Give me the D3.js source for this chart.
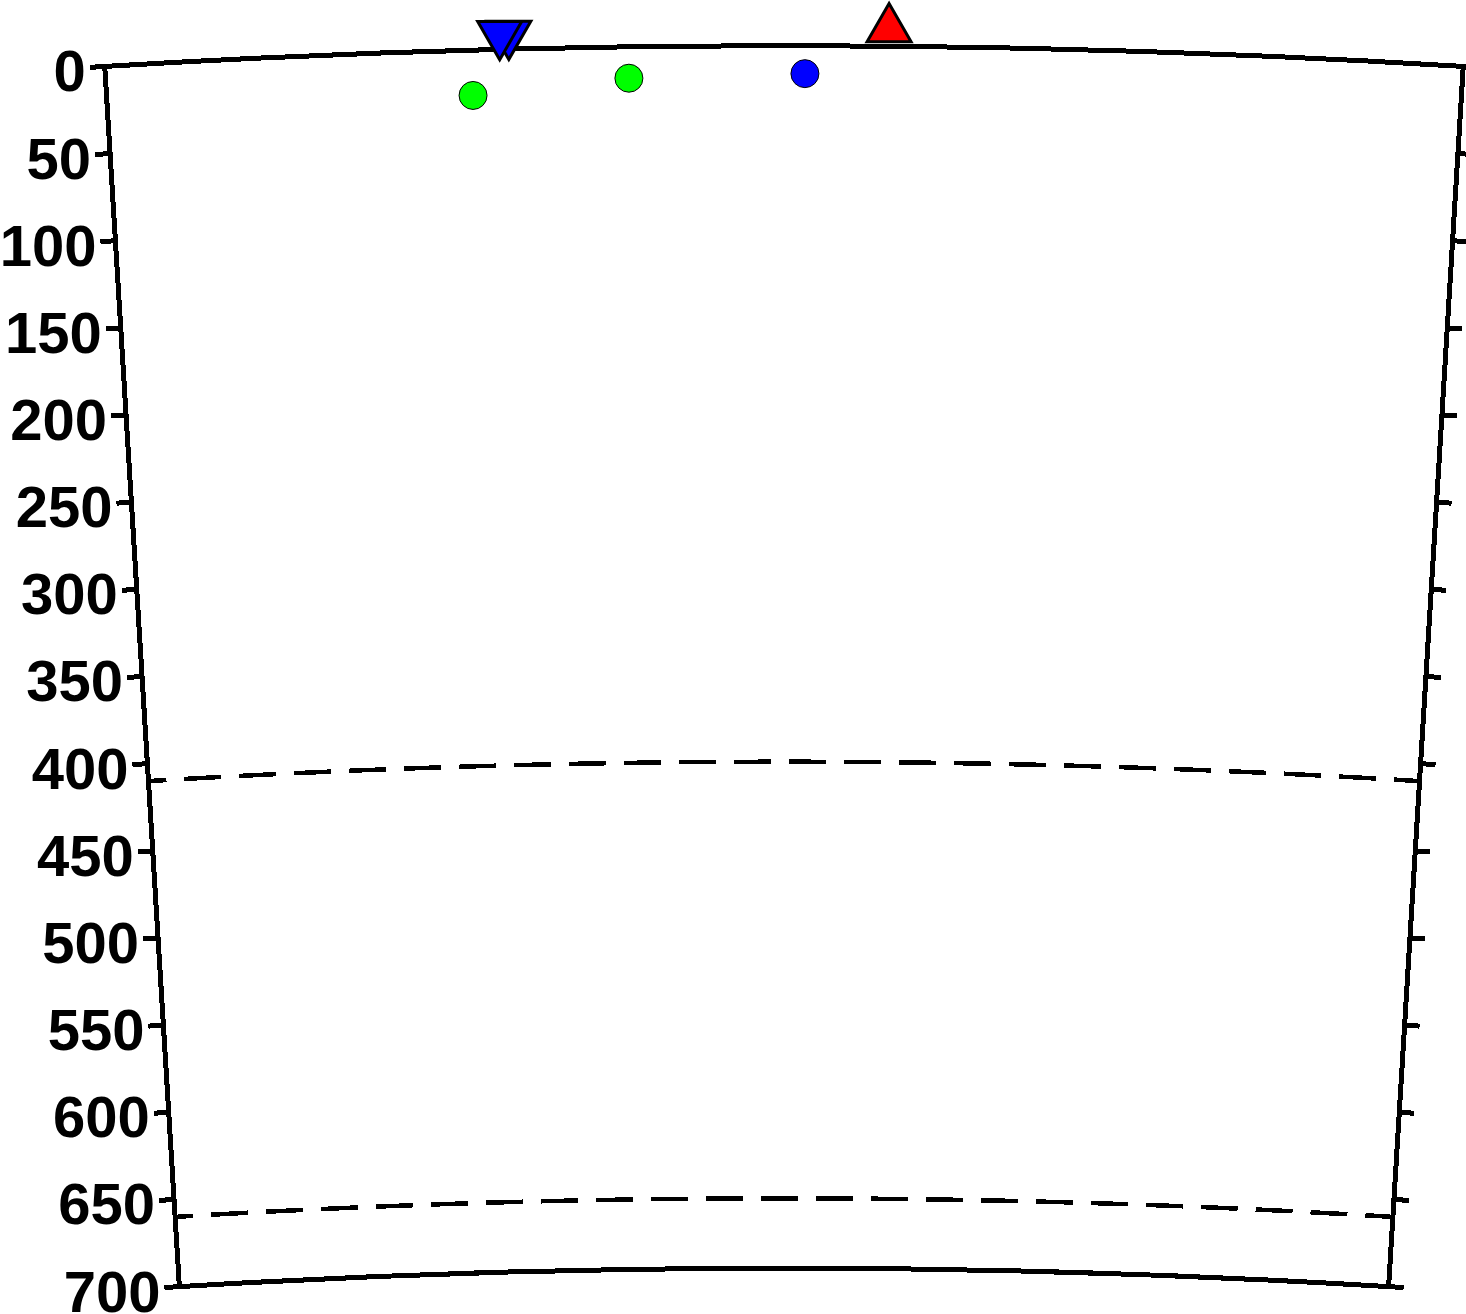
<!DOCTYPE html>
<html>
<head>
<meta charset="utf-8">
<script src="https://cdn.jsdelivr.net/npm/d3@7"></script>
<style>
  html, body { margin: 0; padding: 0; background: #fff; }
  svg { display: block; }
</style>
</head>
<body>
<script>
// ---- data ----
const depthTicks = [0, 50, 100, 150, 200, 250, 300, 350, 400, 450, 500, 550, 600, 650, 700];
const discontinuities = [410, 660];          // km
const profileDeg = [0, 7.0];                 // angular extent of section (deg)
const depthRange = [0, 700];                 // km
const earthRadius = 6371;                    // km

// earthquakes: angle along profile (deg), depth (km), colour
const quakeAngle = [1.892, 2.699, 3.608];
const quakeDepth = [26, 18, 16];
const quakeColor = ["#00ff00", "#00ff00", "#0000ff"];

// stations (drawn above surface): angle (deg), plotting depth (km, negative = above), type, colour
const stationAngle = [2.084, 2.037, 4.04];
const stationDepth = [-5, -5, -13.5];
const stationType  = ["down", "down", "up"];
const stationColor = ["#0000ff", "#0000ff", "#ff0000"];

// ---- layout ----
const W = 1466, H = 1314;
const kmPx = 1.7464;
const cx = 784, cy = 11172;
const R0 = earthRadius * kmPx;

const svg = d3.select("body").append("svg").attr("width", W).attr("height", H);

const rScale = d3.scaleLinear().domain(depthRange).range([R0, R0 - depthRange[1] * kmPx]);
const halfRad = (profileDeg[1] - profileDeg[0]) / 2 * Math.PI / 180;
const aScale = d3.scaleLinear().domain(profileDeg).range([-halfRad, halfRad]);

function pt(a, d) {
  const r = rScale(d), t = aScale(a);
  return [cx + r * Math.sin(t), cy - r * Math.cos(t)];
}

const a0 = aScale(profileDeg[0]) - Math.PI / 2, a1 = aScale(profileDeg[1]) - Math.PI / 2;

// discontinuities (dashed arcs)
discontinuities.forEach(d => {
  const p = d3.path();
  const s = pt(profileDeg[0], d);
  p.moveTo(s[0], s[1]);
  p.arc(cx, cy, rScale(d), a0, a1, false);
  svg.append("path").attr("d", p.toString())
    .attr("fill", "none").attr("stroke", "#000").attr("stroke-width", 4.5)
    .attr("stroke-dasharray", "37,18").attr("stroke-dashoffset", 19)
    .attr("shape-rendering", "crispEdges");
});

// frame
{
  const p = d3.path();
  const tl = pt(profileDeg[0], depthRange[0]);
  const br = pt(profileDeg[1], depthRange[1]);
  p.moveTo(tl[0], tl[1]);
  p.arc(cx, cy, rScale(depthRange[0]), a0, a1, false);
  p.lineTo(br[0], br[1]);
  p.arc(cx, cy, rScale(depthRange[1]), a1, a0, true);
  p.closePath();
  svg.append("path").attr("d", p.toString())
    .attr("fill", "none").attr("stroke", "#000").attr("stroke-width", 5)
    .attr("stroke-linejoin", "miter").attr("shape-rendering", "crispEdges");
}

// ticks & labels
const tickLen = 15;
depthTicks.forEach(d => {
  [profileDeg[0], profileDeg[1]].forEach((a, i) => {
    const t = aScale(a);
    const sgn = i === 0 ? -1 : 1;
    const dir = [sgn * Math.cos(t), sgn * Math.sin(t)];
    const p = pt(a, d);
    const e = [p[0] + dir[0] * tickLen, p[1] + dir[1] * tickLen];
    svg.append("line")
      .attr("x1", p[0]).attr("y1", p[1]).attr("x2", e[0]).attr("y2", e[1])
      .attr("stroke", "#000").attr("stroke-width", 5).attr("shape-rendering", "crispEdges");
    if (i === 0) {
      svg.append("text")
        .attr("x", e[0] - 4).attr("y", e[1] + 24)
        .attr("text-anchor", "end")
        .attr("font-family", "'Liberation Sans', Arial, Helvetica, sans-serif")
        .attr("font-weight", "bold").attr("font-size", 58)
        .text(d);
    }
  });
});

// earthquakes
quakeAngle.forEach((a, i) => {
  const p = pt(a, quakeDepth[i]);
  svg.append("circle").attr("cx", p[0]).attr("cy", p[1]).attr("r", 14)
    .attr("fill", quakeColor[i]).attr("stroke", "#000").attr("stroke-width", 1);
});

// stations
const side = 44, th = side * Math.sqrt(3) / 2;
stationAngle.forEach((a, i) => {
  const p = pt(a, stationDepth[i]);
  const x = p[0], y = p[1];
  let pts;
  if (stationType[i] === "down") {
    pts = [[x - side / 2, y - th / 2], [x + side / 2, y - th / 2], [x, y + th / 2]];
  } else {
    pts = [[x - side / 2, y + th / 2], [x + side / 2, y + th / 2], [x, y - th / 2]];
  }
  svg.append("path").attr("d", d3.line()(pts) + "Z")
    .attr("fill", stationColor[i]).attr("stroke", "#000").attr("stroke-width", 3)
    .attr("stroke-linejoin", "miter");
});
</script>
</body>
</html>
